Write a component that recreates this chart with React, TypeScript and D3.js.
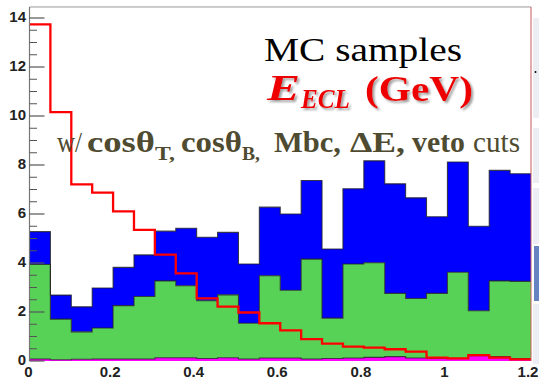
import * as d3 from "d3";

// bin low edges (0.05 wide), E_ECL in GeV
const binLow = [0, 0.05, 0.1, 0.15, 0.2, 0.25, 0.3, 0.35, 0.4, 0.45, 0.5, 0.55, 0.6, 0.65, 0.7, 0.75, 0.8, 0.85, 0.9, 0.95, 1.0, 1.05, 1.1, 1.15];
const xMax = 1.2;

// stacked MC components (bottom -> top)
const magentaVals = [0.08, 0.05, 0.07, 0.08, 0.08, 0.08, 0.13, 0.13, 0.1, 0.13, 0.08, 0.12, 0.12, 0.08, 0.1, 0.12, 0.15, 0.18, 0.12, 0.1, 0.1, 0.22, 0.18, 0.1];
const greenVals = [3.86, 1.66, 1.12, 1.27, 2.18, 2.55, 3.14, 2.94, 2.36, 2.57, 1.46, 3.36, 2.77, 4.08, 1.65, 3.84, 3.86, 2.58, 2.43, 2.66, 3.52, 1.83, 3.09, 3.15];
const blueVals = [1.34, 0.98, 1.02, 1.63, 1.56, 1.7, 2.03, 2.35, 2.59, 2.55, 2.42, 2.8, 3.11, 3.21, 2.82, 3.07, 4.16, 4.47, 4.11, 3.13, 4.5, 3.45, 4.51, 4.39];
// signal (red line, not stacked)
const redVals = [13.74, 10.16, 7.21, 6.87, 6.11, 5.35, 4.34, 3.58, 2.56, 2.22, 1.98, 1.54, 1.25, 0.89, 0.71, 0.59, 0.55, 0.48, 0.38, 0.14, 0.11, 0.24, 0.14, 0.07];

const xTicks = [0, 0.2, 0.4, 0.6, 0.8, 1, 1.2];
const xTickLabels = ["0", "0.2", "0.4", "0.6", "0.8", "1", "1.2"];
const yTicks = [0, 2, 4, 6, 8, 10, 12, 14];

const W = 539;
const H = 381;

function Section() {
    const x = d3.scaleLinear().domain([0, xMax]).range([29.5, 531]);
    const y = d3.scaleLinear().domain([0, 14]).range([361, 18]);
    const yTop = y(14.45);
    const edges = [...binLow, xMax];

    const rows = binLow.map((b, i) => ({ b, magenta: magentaVals[i], green: greenVals[i], blue: blueVals[i] }));
    const series = d3.stack<any>().keys(["magenta", "green", "blue"])(rows);
    const colors: Record<string, string> = { magenta: "#ff00ff", green: "#57d257", blue: "#0000ff" };

    const area = d3
        .area<any>()
        .x((_, i) => x(edges[i]))
        .y0((d) => y(d[0]))
        .y1((d) => y(d[1]))
        .curve(d3.curveStepAfter);

    const topLine = d3
        .line<any>()
        .x((_, i) => x(edges[i]))
        .y((d) => y(d[1]))
        .curve(d3.curveStepAfter);

    const redLine = d3
        .line<number>()
        .x((_, i) => x(edges[i]))
        .y((d) => y(d))
        .curve(d3.curveStepAfter);

    const minor = d3.range(0, 14.5, 0.5).filter((v) => v % 2 !== 0);

    const olive = "#4f4b30";
    const serif = "Liberation Serif, Times New Roman, serif";

    return (
        <svg width={W} height={H} style={{ position: "absolute", left: 0, top: 0, background: "#fff" }}>
            <defs>
                <filter id="shadow" x="-10%" y="-10%" width="130%" height="140%">
                    <feDropShadow dx="2" dy="2" stdDeviation="1.2" floodColor="#777" floodOpacity="0.7" />
                </filter>
            </defs>

            {/* slide bits to the right of the pad */}
            <rect x={533} y={18} width={6} height={100} fill="#eceef3" />
            <rect x={533} y={128} width={6} height={55} fill="#eceef3" />
            <rect x={533} y={188} width={6} height={56} fill="#eceef3" />
            <rect x={534} y={246} width={5} height={55} fill="#6683c2" />
            <rect x={533} y={304} width={6} height={60} fill="#eceef3" />
            <circle cx={535.5} cy={72} r={1} fill="#000" />

            {/* stacked fills */}
            {series
                .slice()
                .reverse()
                .map((s) => (
                    <path key={s.key} d={area([...s, s[s.length - 1]]) ?? ""} fill={colors[s.key]} />
                ))}
            {series.map((s) => (
                <path
                    key={s.key + "-l"}
                    d={topLine([...s, s[s.length - 1]]) ?? ""}
                    fill="none"
                    stroke="#222"
                    strokeOpacity={0.8}
                    strokeWidth={1.1}
                />
            ))}

            {/* signal */}
            <path d={redLine([...redVals, redVals[redVals.length - 1]]) ?? ""} fill="none" stroke="#ff0000" strokeWidth={2.3} />

            {/* frame */}
            <line x1={x(0)} x2={x(xMax)} y1={yTop} y2={yTop} stroke="#9a9a9a" strokeWidth={1} />
            <line x1={x(xMax)} x2={x(xMax)} y1={yTop} y2={y(0)} stroke="#c85a5a" strokeWidth={1} />
            <line x1={x(0)} x2={x(0)} y1={yTop} y2={y(0)} stroke="#777" strokeWidth={1.2} />

            {/* y axis */}
            {yTicks.map((t) => (
                <g key={t}>
                    <line x1={x(0)} x2={x(0) + 15} y1={y(t)} y2={y(t)} stroke="#555" strokeWidth={1.2} />
                    <text
                        x={26}
                        y={y(t) - 1}
                        dy="0.36em"
                        textAnchor="end"
                        fontFamily="Liberation Sans, Arial, sans-serif"
                        fontWeight="bold"
                        fontSize={15}
                        fill="#222"
                    >
                        {t}
                    </text>
                </g>
            ))}
            {minor.map((t) => (
                <line key={t} x1={x(0)} x2={x(0) + 7.5} y1={y(t)} y2={y(t)} stroke="#555" strokeWidth={1} />
            ))}

            {/* x axis labels */}
            {xTicks.map((t, i) => (
                <text
                    key={t}
                    x={x(t) - (i === 0 ? 1 : 3)}
                    y={377}
                    textAnchor="middle"
                    fontFamily="Liberation Sans, Arial, sans-serif"
                    fontWeight="bold"
                    fontSize={15}
                    fill="#222"
                >
                    {xTickLabels[i]}
                </text>
            ))}

            {/* annotations */}
            <text x={264} y={61} fontFamily={serif} fontSize={33} fill="#000" textLength={198} lengthAdjust="spacingAndGlyphs">
                MC samples
            </text>
            <g filter="url(#shadow)" fill="#ee0000" fontFamily={serif} fontWeight="bold">
                <text x={267} y={100} fontStyle="italic" fontSize={35} textLength={33} lengthAdjust="spacingAndGlyphs">
                    E
                </text>
                <text x={301} y={108} fontStyle="italic" fontSize={27} textLength={49} lengthAdjust="spacingAndGlyphs">
                    ECL
                </text>
                <text x={365} y={101} fontSize={35} textLength={108} lengthAdjust="spacingAndGlyphs">
                    (GeV)
                </text>
            </g>
            <g fontFamily={serif} fontSize={29} fill={olive}>
                <text x={57} y={152} textLength={25} lengthAdjust="spacingAndGlyphs">w/</text>
                <text x={87} y={152} fontWeight="bold" textLength={68} lengthAdjust="spacingAndGlyphs">cosθ</text>
                <text x={155} y={160} fontWeight="bold" fontSize={18} textLength={20} lengthAdjust="spacingAndGlyphs">T,</text>
                <text x={181} y={152} fontWeight="bold" textLength={61} lengthAdjust="spacingAndGlyphs">cosθ</text>
                <text x={242} y={160} fontWeight="bold" fontSize={18} textLength={18} lengthAdjust="spacingAndGlyphs">B,</text>
                <text x={274} y={152} fontWeight="bold" textLength={67} lengthAdjust="spacingAndGlyphs">Mbc,</text>
                <text x={350} y={152} fontWeight="bold" textLength={55} lengthAdjust="spacingAndGlyphs">ΔE,</text>
                <text x={412} y={152} fontWeight="bold" textLength={53} lengthAdjust="spacingAndGlyphs">veto</text>
                <text x={473} y={152} textLength={47} lengthAdjust="spacingAndGlyphs">cuts</text>
            </g>
        </svg>
    );
}

export default function App() {
    return (
        <div>
            <Section />
        </div>
    );
}
